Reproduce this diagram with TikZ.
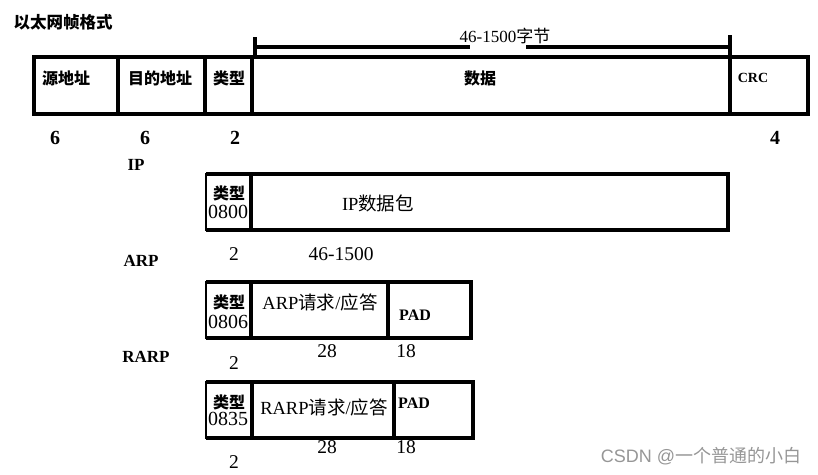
\documentclass[tikz,border=0pt]{standalone}
\usepackage{fontspec}
\setmainfont{Liberation Serif}
\newfontfamily\cjk{Noto Sans CJK SC}
\newfontfamily\wsans{Liberation Sans}
\definecolor{wmgray}{RGB}{150,150,150}
\begin{document}
\begin{tikzpicture}[x=1pt,y=-1pt,
  thickl/.style={line width=3.2pt},
  cell/.style={draw, line width=3.2pt, inner sep=0pt, outer sep=0pt, anchor=north west},
  tcell/.style={draw, line width=1.2pt, inner sep=0pt, outer sep=0pt, anchor=north west},
  lab/.style={inner sep=0pt, outer sep=0pt},
  ctop/.style={lab, font=\cjk\bfseries\fontsize{16}{16}\selectfont},
  numt/.style={lab, font=\bfseries\fontsize{20}{20}\selectfont},
  numr/.style={lab, font=\fontsize{19.5}{19.5}\selectfont},
  proto/.style={lab, font=\bfseries\fontsize{17}{17}\selectfont},
  intext/.style={lab, font=\fontsize{18.5}{18.5}\selectfont},
  typel/.style={lab, font=\cjk\bfseries\fontsize{16}{16}\selectfont},
  typen/.style={lab, font=\fontsize{20}{20}\selectfont},
  pad/.style={lab, font=\bfseries\fontsize{16}{16}\selectfont}]
\useasboundingbox (0,0) rectangle (818,474);

% title
\node[ctop, font=\cjk\bfseries\fontsize{16.5}{16.5}\selectfont] (title) at (63,22) {以太网帧格式};

% Ethernet frame
\node[cell, minimum width=84pt, minimum height=57pt] (src) at (34,57) {};
\node[cell, minimum width=87pt, minimum height=57pt] (dst) at (118,57) {};
\node[cell, minimum width=47pt, minimum height=57pt] (typ) at (205,57) {};
\node[cell, minimum width=478pt, minimum height=57pt] (dat) at (252,57) {};
\node[cell, minimum width=78pt, minimum height=57pt] (crc) at (730,57) {};

\node[ctop] (srcL) at (66,78) {源地址};
\node[ctop] (dstL) at (160,78) {目的地址};
\node[ctop] (typL) at (229,78) {类型};
\node[ctop] (datL) at (480,78) {数据};
\node[lab, font=\bfseries\fontsize{14}{14}\selectfont] (crcL) at (753,78) {CRC};

% bracket
\coordinate (b1) at (255,37);
\coordinate (b2) at (255,58);
\coordinate (b3) at (730,35);
\coordinate (b4) at (730,57);
\coordinate (h1) at (255,47);
\coordinate (h2) at (470,47);
\coordinate (h3) at (526,47);
\coordinate (h4) at (730,47);
\draw[thickl] (b1) -- (b2);
\draw[thickl] (b3) -- (b4);
\draw[thickl] (h1) -- (h2);
\draw[thickl] (h3) -- (h4);
\node[lab, font=\fontsize{17}{17}\selectfont] (brk) at (505,36) {46-1500{\cjk 字节}};

% sizes
\node[numt] (n6a) at (55,138) {6};
\node[numt] (n6b) at (145,138) {6};
\node[numt] (n2a) at (235,138) {2};
\node[numt] (n4) at (775,138) {4};

% IP
\node[proto] (ipL) at (136,165) {IP};
\node[tcell, minimum width=45pt, minimum height=56pt] (ipT) at (206,174) {};
\node[cell, minimum width=477pt, minimum height=56pt] (ipD) at (251,174) {};
\draw[thickl] (ipT.north west) -- (ipT.north east);
\draw[thickl] (ipT.south west) -- (ipT.south east);
\node[typel] (ipT1) at (229,193) {类型};
\node[typen] (ipT2) at (228,212) {0800};
\node[intext] (ipDL) at (378,203) {IP{\cjk 数据包}};
\node[numr] (ip2) at (234,254) {2};
\node[numr] (ipsz) at (341,254) {46-1500};

% ARP
\node[proto] (arL) at (141,261) {ARP};
\node[tcell, minimum width=45pt, minimum height=56pt] (arT) at (206,282) {};
\node[cell, minimum width=137pt, minimum height=56pt] (arR) at (251,282) {};
\node[cell, minimum width=83pt, minimum height=56pt] (arP) at (388,282) {};
\draw[thickl] (arT.north west) -- (arT.north east);
\draw[thickl] (arT.south west) -- (arT.south east);
\node[typel] (arT1) at (229,302) {类型};
\node[typen] (arT2) at (228,322) {0806};
\node[intext] (arRL) at (320,302) {ARP{\cjk 请求}/{\cjk 应答}};
\node[pad] (arPL) at (415,315) {PAD};
\node[numr] (ar28) at (327,351) {28};
\node[numr] (ar18) at (406,351) {18};
\node[numr] (ar2) at (234,363) {2};

% RARP
\node[proto] (rrL) at (146,357) {RARP};
\node[tcell, minimum width=46pt, minimum height=56pt] (rrT) at (206,382) {};
\node[cell, minimum width=142pt, minimum height=56pt] (rrR) at (252,382) {};
\node[cell, minimum width=79pt, minimum height=56pt] (rrP) at (394,382) {};
\draw[thickl] (rrT.north west) -- (rrT.north east);
\draw[thickl] (rrT.south west) -- (rrT.south east);
\node[typel] (rrT1) at (229,402) {类型};
\node[typen] (rrT2) at (228,419) {0835};
\node[intext] (rrRL) at (324,407) {RARP{\cjk 请求}/{\cjk 应答}};
\node[pad] (rrPL) at (414,403) {PAD};
\node[numr] (rr28) at (327,447) {28};
\node[numr] (rr18) at (406,447) {18};
\node[numr] (rr2) at (234,462) {2};

% watermark
\node[lab, text=wmgray, font=\wsans\fontsize{18}{18}\selectfont] (wm) at (701,456) {CSDN @{\cjk 一个普通的小白}};
\end{tikzpicture}
\end{document}
